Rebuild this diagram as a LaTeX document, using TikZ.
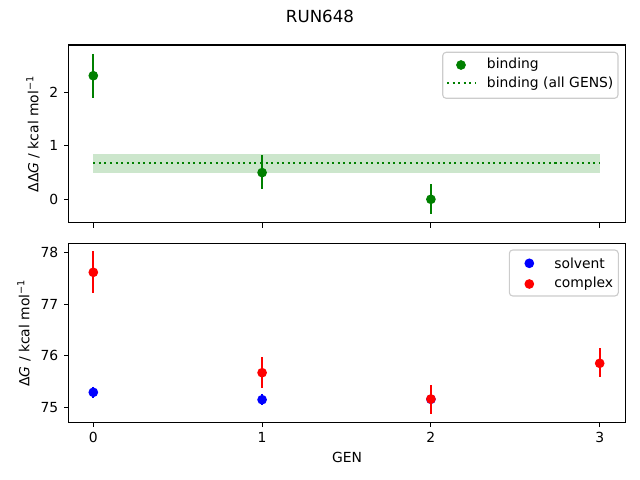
\documentclass[tikz,border=0pt]{standalone}
\usepackage{fontspec}
\setmainfont{DejaVu Sans}
\usepackage{tikz}
\usetikzlibrary{positioning}
\definecolor{mplgreen}{RGB}{0,128,0}
\definecolor{mplblue}{RGB}{0,0,255}
\definecolor{mplred}{RGB}{255,0,0}
\definecolor{bandcol}{RGB}{204,230,204}
\definecolor{legframe}{RGB}{204,204,204}

\begin{document}
\begin{tikzpicture}[x=0.72pt,y=-0.72pt,line cap=butt]
 \tikzstyle{dot}=[circle,inner sep=0pt,minimum size=7pt]
 \tikzstyle{errbar}=[line width=1.5pt]
 \tikzstyle{frame}=[line width=0.8pt]
 \tikzstyle{tick}=[line width=0.8pt]
 \tikzstyle{ticklab}=[inner sep=0pt]
 \tikzstyle{legbox}=[draw=legframe,fill=white,rounded corners=2.5pt,line width=0.8pt]

   \useasboundingbox (0,0) rectangle (640,480);

   % title
   \node (title) at (320,16.5) {\large RUN648};

   % upper panel: binding
   \fill[bandcol] (93.3,154.4) rectangle (599.7,172.6);
   \draw[mplgreen,line width=1.5pt,dash pattern=on 1.5pt off 2.5pt] (93.3,162.9) -- (599.7,162.9);

   \coordinate (b0t) at (93.3,53.8);   \coordinate (b0b) at (93.3,97.6);
   \coordinate (b1t) at (262.1,155.4); \coordinate (b1b) at (262.1,188.6);
   \coordinate (b2t) at (430.9,184.3); \coordinate (b2b) at (430.9,214.3);
   \draw[errbar,mplgreen] (b0t) -- (b0b);
   \draw[errbar,mplgreen] (b1t) -- (b1b);
   \draw[errbar,mplgreen] (b2t) -- (b2b);
   \node[dot,fill=mplgreen] (b0) at (93.3,75.7) {};
   \node[dot,fill=mplgreen] (b1) at (262.1,172.6) {};
   \node[dot,fill=mplgreen] (b2) at (430.9,199.3) {};

   \draw[frame] (68.5,45) rectangle (625.8,222.7);
   \draw[tick] (68.5,92.3) -- ++(-4.9,0) node[ticklab,left=3.5pt] (y2) {2};
   \draw[tick] (68.5,145.8) -- ++(-4.9,0) node[ticklab,left=3.5pt] (y1) {1};
   \draw[tick] (68.5,199.3) -- ++(-4.9,0) node[ticklab,left=3.5pt] (y0) {0};
   \draw[tick] (93.3,222.7) -- ++(0,4.9);
   \draw[tick] (262.1,222.7) -- ++(0,4.9);
   \draw[tick] (430.9,222.7) -- ++(0,4.9);
   \draw[tick] (599.7,222.7) -- ++(0,4.9);
   \node[rotate=90] (ylabtop) at (33,134) {ΔΔ\textit{G} / kcal mol\textsuperscript{−1}};

   % legend upper
   \draw[legbox] (442.7,52.3) rectangle (618,98.3);
   \node[dot,fill=mplgreen] (legb) at (461,65) {};
   \draw[mplgreen,line width=1.5pt,dash pattern=on 1.5pt off 2.5pt] (447,83.3) -- (475,83.3);
   \node[anchor=west,inner sep=0pt] (legbtxt) at (486.7,65) {binding};
   \node[anchor=west,inner sep=0pt] (legalltxt) at (486.7,83.3) {binding (all GENS)};

   % lower panel: solvent and complex
   \coordinate (s0t) at (93.3,386.5);  \coordinate (s0b) at (93.3,398);
   \coordinate (s1t) at (262.1,394);   \coordinate (s1b) at (262.1,405);
   \coordinate (s2t) at (430.9,394);   \coordinate (s2b) at (430.9,405);
   \draw[errbar,mplblue] (s0t) -- (s0b);
   \draw[errbar,mplblue] (s1t) -- (s1b);
   \draw[errbar,mplblue] (s2t) -- (s2b);
   \node[dot,fill=mplblue] (s0) at (93.3,392.3) {};
   \node[dot,fill=mplblue] (s1) at (262.1,399.7) {};
   \node[dot,fill=mplblue] (s2) at (430.9,399.3) {};

   \coordinate (c0t) at (93.3,251);    \coordinate (c0b) at (93.3,292.7);
   \coordinate (c1t) at (262.1,357);   \coordinate (c1b) at (262.1,387.7);
   \coordinate (c2t) at (430.9,385);   \coordinate (c2b) at (430.9,413.7);
   \coordinate (c3t) at (599.7,348);   \coordinate (c3b) at (599.7,376.7);
   \draw[errbar,mplred] (c0t) -- (c0b);
   \draw[errbar,mplred] (c1t) -- (c1b);
   \draw[errbar,mplred] (c2t) -- (c2b);
   \draw[errbar,mplred] (c3t) -- (c3b);
   \node[dot,fill=mplred] (c0) at (93.3,272.3) {};
   \node[dot,fill=mplred] (c1) at (262.1,372.7) {};
   \node[dot,fill=mplred] (c2) at (430.9,399) {};
   \node[dot,fill=mplred] (c3) at (599.7,363.3) {};

   \draw[frame] (68.5,243.3) rectangle (625.8,422.3);
   \draw[tick] (68.5,252.7) -- ++(-4.9,0) node[ticklab,left=3.5pt] (y78) {78};
   \draw[tick] (68.5,304.3) -- ++(-4.9,0) node[ticklab,left=3.5pt] (y77) {77};
   \draw[tick] (68.5,355.8) -- ++(-4.9,0) node[ticklab,left=3.5pt] (y76) {76};
   \draw[tick] (68.5,407.3) -- ++(-4.9,0) node[ticklab,left=3.5pt] (y75) {75};
   \draw[tick] (93.3,422.3) -- ++(0,4.9) node[ticklab,below=3.5pt] (x0) {0};
   \draw[tick] (262.1,422.3) -- ++(0,4.9) node[ticklab,below=3.5pt] (x1) {1};
   \draw[tick] (430.9,422.3) -- ++(0,4.9) node[ticklab,below=3.5pt] (x2) {2};
   \draw[tick] (599.7,422.3) -- ++(0,4.9) node[ticklab,below=3.5pt] (x3) {3};
   \node (xlab) at (347,457) {GEN};
   \node[rotate=90] (ylabbot) at (24,333) {Δ\textit{G} / kcal mol\textsuperscript{−1}};

   % legend lower
   \draw[legbox] (509.3,250) rectangle (618.3,296);
   \node[dot,fill=mplblue] (legs) at (529.3,263.3) {};
   \node[dot,fill=mplred] (legc) at (529.3,284) {};
   \node[anchor=west,inner sep=0pt] (legstxt) at (554,263.3) {solvent};
   \node[anchor=west,inner sep=0pt] (legctxt) at (554,284) {complex};

\end{tikzpicture}
\end{document}
